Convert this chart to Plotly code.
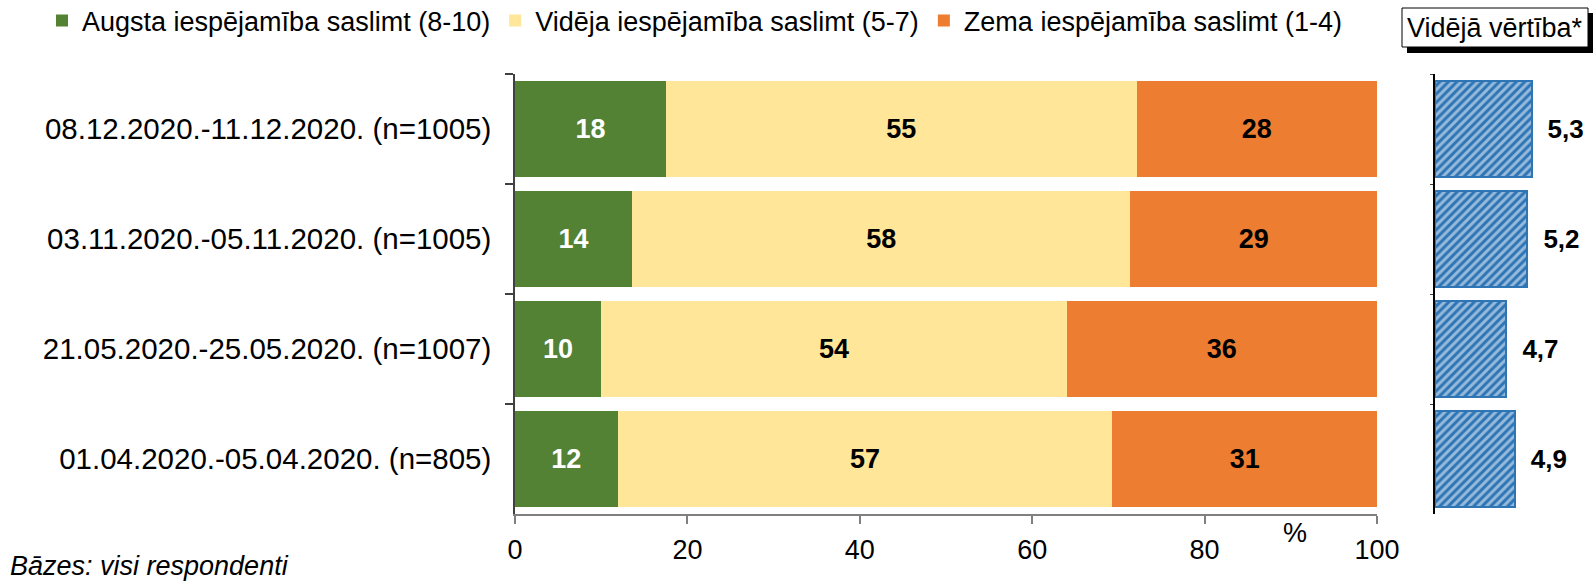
import plotly.graph_objects as go

# ---------------- data ----------------
categories = [
    "08.12.2020.-11.12.2020. (n=1005)",
    "03.11.2020.-05.11.2020. (n=1005)",
    "21.05.2020.-25.05.2020. (n=1007)",
    "01.04.2020.-05.04.2020. (n=805)",
]
high = [17.5, 13.6, 10.0, 11.9]      # Augsta iespējamība saslimt (8-10)
mid = [54.6, 57.8, 54.0, 57.4]       # Vidēja iespējamība saslimt (5-7)
low = [27.9, 28.6, 36.0, 30.7]       # Zema iespējamība saslimt (1-4)
mean_vals = [5.3, 5.2, 4.7, 4.9]     # Vidējā vērtība*
mean_labels = ["5,3", "5,2", "4,7", "4,9"]
series_names = [
    "Augsta iespējamība saslimt (8-10)",
    "Vidēja iespējamība saslimt (5-7)",
    "Zema iespējamība saslimt (1-4)",
]
x_ticks = [0, 20, 40, 60, 80, 100]
mean_axis_min = 3

# ---------------- styling ----------------
W, H = 1593, 582
ML, MR, MT, MB = 515, 32, 74, 68
PW = W - ML - MR
PH = H - MT - MB
FONT = "Liberation Sans, Arial, sans-serif"
GREEN, YELLOW, ORANGE, BLUE = "#548235", "#FFE699", "#ED7D31", "#2E75B6"


def px_x(p):
    return (p - ML) / PW


def px_y(p):
    return (H - MB - p) / PH


fig = go.Figure()
colors = [GREEN, YELLOW, ORANGE]
text_colors = ["white", "black", "black"]
for name, vals, col, tcol in zip(series_names, [high, mid, low], colors, text_colors):
    fig.add_trace(go.Bar(
        y=categories, x=vals, name=name, orientation="h",
        marker=dict(color=col, line=dict(width=0)),
        width=0.864,
        texttemplate="%{x:.0f}", textposition="inside",
        insidetextanchor="middle", textangle=0, constraintext="none",
        textfont=dict(family=FONT, size=27, color=tcol, weight="bold"),
        xaxis="x", yaxis="y",
    ))

fig.add_trace(go.Bar(
    y=categories, x=[v - mean_axis_min for v in mean_vals], base=mean_axis_min,
    orientation="h", showlegend=False,
    marker=dict(color=BLUE, line=dict(color=BLUE, width=2),
                pattern=dict(shape="/", fgcolor="white", bgcolor=BLUE,
                             size=6, solidity=0.5, fillmode="overlay")),
    width=0.864,
    text=["\u2002" + t for t in mean_labels], textposition="outside",
    textfont=dict(family=FONT, size=26, color="black", weight="bold"),
    cliponaxis=False,
    xaxis="x2", yaxis="y2",
))

dom_main = [0, px_x(1377)]
dom_right = [px_x(1435), 1.0]

fig.update_layout(
    width=W, height=H,
    margin=dict(l=ML, r=MR, t=MT, b=MB, autoexpand=False),
    barmode="stack",
    plot_bgcolor="white", paper_bgcolor="white",
    font=dict(family=FONT, size=27, color="black"),
    showlegend=True,
    legend=dict(orientation="h", x=px_x(42), xanchor="left",
                y=px_y(21), yanchor="middle",
                font=dict(family=FONT, size=27, color="black"),
                traceorder="normal", itemwidth=30, bgcolor="rgba(0,0,0,0)"),
    xaxis=dict(domain=dom_main, range=[0, 100], tickvals=x_ticks,
               showgrid=False, zeroline=False, showline=True,
               linecolor="#808080", linewidth=1.5, ticks="outside",
               ticklen=8, tickcolor="#808080", tickwidth=1.5,
               ticklabelstandoff=3,
               tickfont=dict(family=FONT, size=27, color="black"),
               anchor="y", fixedrange=True),
    yaxis=dict(domain=[0, 1], categoryorder="array", categoryarray=categories,
               range=[3.5, -0.5], showgrid=False, zeroline=False,
               showline=True, linecolor="#404040", linewidth=1.5,
               ticks="outside", tickson="boundaries", ticklen=8,
               tickcolor="#404040", tickwidth=1.5, ticklabelstandoff=16,
               tickfont=dict(family=FONT, size=29.5, color="black"),
               anchor="x"),
    xaxis2=dict(domain=dom_right, range=[mean_axis_min, 6], showticklabels=False,
                showgrid=False, zeroline=False, showline=False, ticks="",
                anchor="y2"),
    yaxis2=dict(domain=[0, 1], categoryorder="array", categoryarray=categories,
                range=[3.5, -0.5], showgrid=False, zeroline=False,
                showline=True, linecolor="black", linewidth=1.5,
                ticks="outside", tickson="boundaries", ticklen=3,
                tickcolor="#404040", showticklabels=False, anchor="x2"),
)

# shadowed box for "Vidējā vērtība*"
fig.add_shape(type="rect", xref="paper", yref="paper",
              x0=px_x(1407), x1=px_x(1593), y0=px_y(53), y1=px_y(13),
              fillcolor="black", line=dict(width=0), layer="above")
fig.add_shape(type="rect", xref="paper", yref="paper",
              x0=px_x(1402), x1=px_x(1588), y0=px_y(47), y1=px_y(8),
              fillcolor="white", line=dict(color="black", width=1), layer="above")
fig.add_annotation(text="Vidējā vērtība*", xref="paper", yref="paper",
                   x=px_x(1495), y=px_y(28), xanchor="center", yanchor="middle",
                   showarrow=False, font=dict(family=FONT, size=27, color="black"))

fig.add_annotation(text="%", xref="paper", yref="paper",
                   x=px_x(1295), y=px_y(533), xanchor="center", yanchor="middle",
                   showarrow=False, font=dict(family=FONT, size=27, color="black"))
fig.add_annotation(text="<i>Bāzes: visi respondenti</i>", xref="paper", yref="paper",
                   x=px_x(8), y=px_y(566), xanchor="left", yanchor="middle",
                   showarrow=False, font=dict(family=FONT, size=27, color="black"))

fig.write_html("out.html",
               config={"displayModeBar": False},
               post_script="document.body.style.margin='0';"
                           "document.body.style.overflow='hidden';")
